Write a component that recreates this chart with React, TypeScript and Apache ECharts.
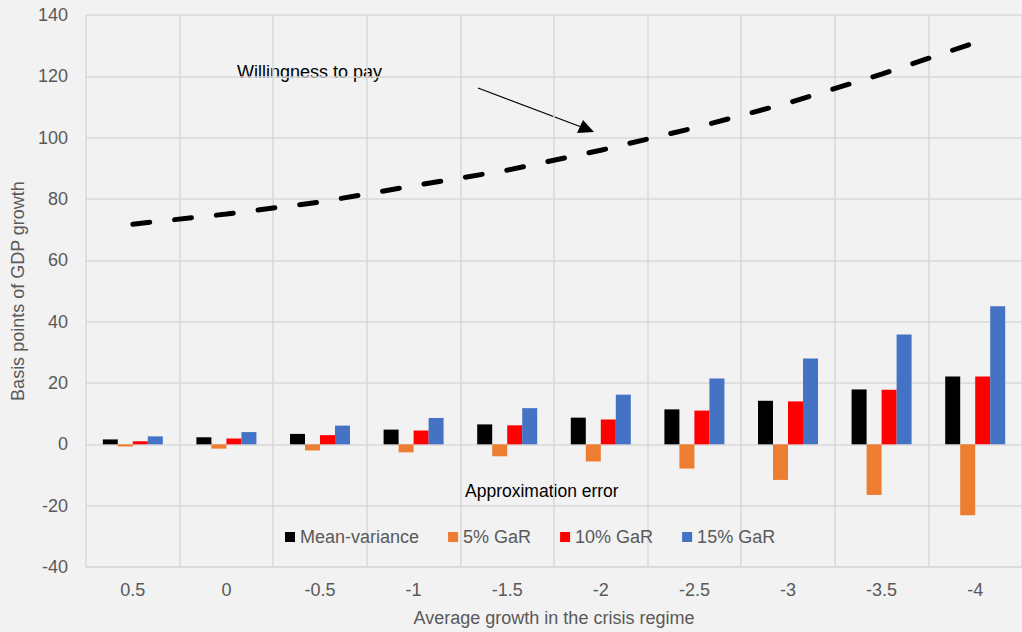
import React, { useEffect, useRef } from "react";
import * as echarts from "echarts";

const categories = ["0.5", "0", "-0.5", "-1", "-1.5", "-2", "-2.5", "-3", "-3.5", "-4"];
const meanVariance = [1.6, 2.3, 3.4, 4.8, 6.5, 8.7, 11.4, 14.2, 17.9, 22.1];
const gar5 = [-0.7, -1.4, -2.0, -2.6, -3.9, -5.6, -7.9, -11.6, -16.5, -23.1];
const gar10 = [1.0, 1.9, 3.0, 4.5, 6.2, 8.1, 11.0, 14.0, 17.8, 22.1];
const gar15 = [2.6, 4.0, 6.1, 8.6, 11.8, 16.2, 21.5, 28.0, 35.8, 45.0];
const willingness = [71.8, 75.1, 79.0, 84.3, 89.4, 95.9, 103.2, 111.3, 120.7, 131.0];
const yTicks = { min: -40, max: 140, interval: 20 };

const FONT = "Liberation Sans, Arial, sans-serif";
const GRAY = "#595959";
const GRID = "#d9d9d9";

export default function App() {
  const ref = useRef<HTMLDivElement>(null);
  useEffect(() => {
    document.body.style.margin = "0";
    const chart = echarts.init(ref.current!, null, { renderer: "svg" });
    const bar = (name: string, data: number[], color: string) => ({
      name,
      type: "bar",
      data,
      barWidth: 15,
      barGap: "0%",
      itemStyle: { color },
    });
    chart.setOption({
      animation: false,
      backgroundColor: "#f2f2f2",
      textStyle: { fontFamily: FONT },
      grid: { left: 86, right: 0, top: 15, bottom: 64, containLabel: false },
      legend: {
        data: ["Mean-variance", "5% GaR", "10% GaR", "15% GaR"],
        left: 280,
        top: 523,
        itemWidth: 10,
        itemHeight: 10,
        itemGap: 29,
        icon: "rect",
        textStyle: { color: GRAY, fontSize: 18, fontFamily: FONT },
      },
      xAxis: {
        type: "category",
        data: categories,
        name: "Average growth in the crisis regime",
        nameLocation: "middle",
        nameGap: 42,
        nameTextStyle: { color: GRAY, fontSize: 18, fontFamily: FONT },
        axisLine: { onZero: false, lineStyle: { color: GRID, width: 1.5 } },
        axisTick: { show: false },
        axisLabel: { color: GRAY, fontSize: 18, margin: 14, fontFamily: FONT },
        splitLine: { show: true, lineStyle: { color: GRID, width: 1.5 } },
      },
      yAxis: {
        type: "value",
        min: yTicks.min,
        max: yTicks.max,
        interval: yTicks.interval,
        name: "Basis points of GDP growth",
        nameLocation: "middle",
        nameGap: 56,
        nameTextStyle: { color: GRAY, fontSize: 18, fontFamily: FONT },
        axisLine: { show: false },
        axisTick: { show: false },
        axisLabel: { color: GRAY, fontSize: 18, margin: 18, fontFamily: FONT },
        splitLine: { show: true, lineStyle: { color: GRID, width: 1.5 } },
      },
      series: [
        bar("Mean-variance", meanVariance, "#000000"),
        bar("5% GaR", gar5, "#ed7d31"),
        bar("10% GaR", gar10, "#ff0000"),
        bar("15% GaR", gar15, "#4472c4"),
        {
          name: "Willingness to pay",
          type: "line",
          data: willingness,
          symbol: "none",
          lineStyle: { color: "#000", width: 5, type: [17, 25], cap: "round" },
          z: 5,
        },
      ],
      graphic: [
        {
          type: "text",
          left: 237,
          top: 63,
          style: { text: "Willingness to pay", fill: "#000", font: `18px ${FONT}` },
        },
        {
          type: "line",
          shape: { x1: 478, y1: 88, x2: 584, y2: 128 },
          style: { stroke: "#000", lineWidth: 1.2 },
        },
        {
          type: "polygon",
          shape: { points: [[594, 132], [577, 133], [583, 120]] },
          style: { fill: "#000" },
        },
        {
          type: "text",
          left: 465,
          top: 482,
          style: { text: "Approximation error", fill: "#000", font: `17.5px ${FONT}` },
        },
      ],
    });
    return () => chart.dispose();
  }, []);
  return <div ref={ref} style={{ width: 1022, height: 632 }} />;
}
